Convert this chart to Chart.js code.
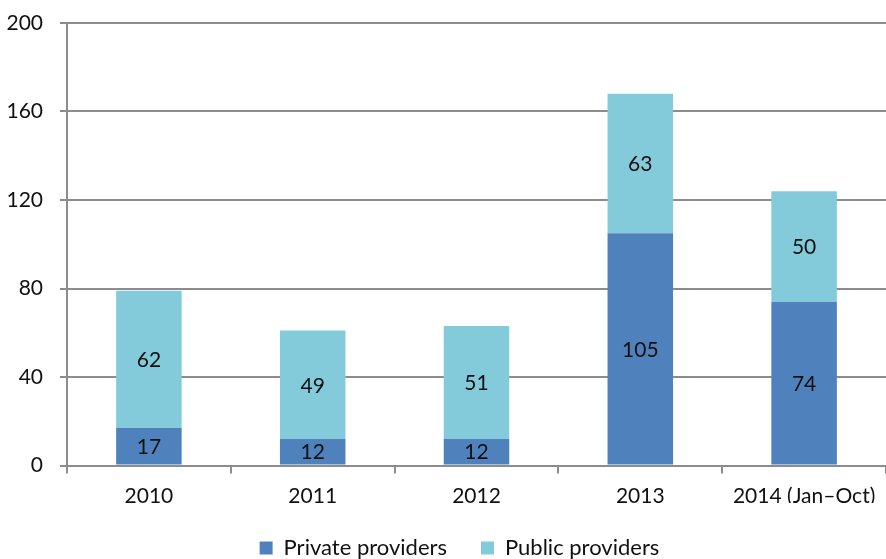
<!DOCTYPE html>
<html>
<head>
<meta charset="utf-8">
<script src="https://cdn.jsdelivr.net/npm/chart.js@4"></script>
<style>
  html, body { margin: 0; padding: 0; background: #fff; }
  #wrap { width: 886px; height: 559px; }
</style>
</head>
<body>
<div id="wrap"><canvas id="chart" width="886" height="559"></canvas></div>
<script>
const years = ["2010", "2011", "2012", "2013", "2014 (Jan\u2013Oct)"];
const privateProviders = [17, 12, 12, 105, 74];
const publicProviders = [62, 49, 51, 63, 50];
const yTicks = [0, 40, 80, 120, 160, 200];

const FONT = "Lato, 'Open Sans', sans-serif";
const AXIS_GREY = "#8c8c8c";

// draws the value in the middle of each bar segment
const segmentLabels = {
  id: "segmentLabels",
  afterDatasetsDraw(chart) {
    const ctx = chart.ctx;
    ctx.save();
    ctx.font = "21px " + FONT;
    ctx.fillStyle = "#111";
    ctx.textAlign = "center";
    ctx.textBaseline = "middle";
    chart.data.datasets.forEach((ds, i) => {
      chart.getDatasetMeta(i).data.forEach((bar, j) => {
        const mid = (bar.y + bar.base) / 2;
        ctx.fillText(String(ds.data[j]), bar.x, mid + 1);
      });
    });
    ctx.restore();
  }
};

// legend in the original sits a little right of the canvas centre
const legendShift = {
  id: "legendShift",
  afterLayout(chart) {
    if (chart.legend) chart.legend.left += 33;
  }
};

new Chart(document.getElementById("chart").getContext("2d"), {
  type: "bar",
  data: {
    labels: years,
    datasets: [
      {
        label: "Private providers",
        data: privateProviders,
        backgroundColor: "#4f81bd",
        borderWidth: 0,
        barPercentage: 0.4,
        categoryPercentage: 1
      },
      {
        label: "Public providers",
        data: publicProviders,
        backgroundColor: "#83cbdb",
        borderWidth: 0,
        barPercentage: 0.4,
        categoryPercentage: 1
      }
    ]
  },
  options: {
    responsive: false,
    animation: false,
    layout: { padding: { top: 0, right: 0, left: 0, bottom: -10 } },
    scales: {
      x: {
        stacked: true,
        offset: true,
        afterFit: (scale) => { scale.height = 37.5; },
        grid: {
          offset: true,
          drawOnChartArea: false,
          color: AXIS_GREY,
          lineWidth: 2,
          tickLength: 8
        },
        border: { color: AXIS_GREY, width: 2 },
        ticks: { color: "#111", font: { family: FONT, size: 21 }, padding: 10, maxRotation: 0 }
      },
      y: {
        stacked: true,
        min: 0,
        max: 200,
        afterBuildTicks: (scale) => { scale.ticks = yTicks.map(v => ({ value: v })); },
        afterFit: (scale) => {
          scale.width = 67;
          scale.paddingTop = 23;
          scale.paddingBottom = 0;
        },
        grid: { color: AXIS_GREY, lineWidth: 2, tickLength: 7 },
        border: { color: AXIS_GREY, width: 2 },
        ticks: { color: "#111", font: { family: FONT, size: 21 }, padding: 17 }
      }
    },
    plugins: {
      legend: {
        position: "bottom",
        labels: {
          boxWidth: 13,
          boxHeight: 13,
          padding: 34,
          color: "#111",
          font: { family: FONT, size: 22 }
        }
      },
      tooltip: { enabled: false }
    }
  },
  plugins: [segmentLabels, legendShift]
});
</script>
</body>
</html>
